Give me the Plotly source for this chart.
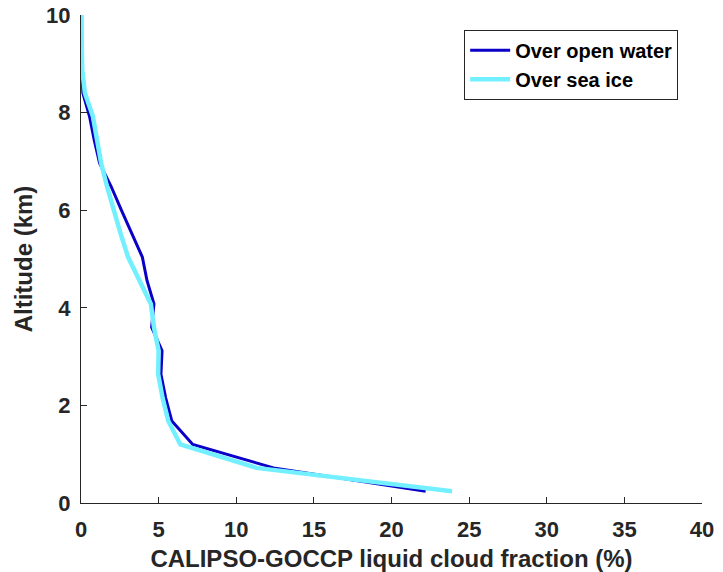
import plotly.graph_objects as go

altitude = [0.24, 0.72, 1.2, 1.68, 2.16, 2.64, 3.12, 3.6, 4.08, 4.56, 5.04, 5.52,
            6.0, 6.48, 6.96, 7.44, 7.92, 8.4, 8.88, 9.36, 9.84, 10.32]
open_water = [22.2, 12.4, 7.2, 5.85, 5.45, 5.15, 5.22, 4.55, 4.7, 4.25, 3.95, 3.25,
              2.6, 1.95, 1.2, 0.85, 0.55, 0.12, 0.05, 0.03, 0.02, 0.01]
sea_ice = [23.9, 11.3, 6.4, 5.62, 5.25, 4.97, 5.0, 4.7, 4.5, 3.8, 3.03, 2.55,
           2.1, 1.68, 1.3, 1.05, 0.77, 0.25, 0.08, 0.05, 0.04, 0.03]

x_ticks = [0, 5, 10, 15, 20, 25, 30, 35, 40]
y_ticks = [0, 2, 4, 6, 8, 10]

FONT = "Liberation Sans, Arial, sans-serif"
AX = "#262626"

fig = go.Figure()
fig.add_trace(go.Scatter(x=open_water, y=altitude, mode="lines", name="Over open water",
                         line=dict(color="#0A00C8", width=3)))
fig.add_trace(go.Scatter(x=sea_ice, y=altitude, mode="lines", name="Over sea ice",
                         line=dict(color="#73F0FF", width=4.5)))

fig.update_layout(
    width=723, height=572,
    margin=dict(l=81, r=21, t=15, b=69, autoexpand=False),
    paper_bgcolor="white", plot_bgcolor="white",
    font=dict(family=FONT, color=AX),
    showlegend=True,
    legend=dict(x=0.617, y=0.97, xanchor="left", yanchor="top",
                bgcolor="white", bordercolor=AX, borderwidth=1,
                font=dict(family=FONT, size=20, color="black", weight="bold"),
                itemwidth=40, tracegroupgap=0),
    xaxis=dict(range=[0, 40], tickvals=x_ticks, ticktext=[str(v) for v in x_ticks],
               automargin=False,
               showline=True, linecolor=AX, linewidth=1, mirror=False,
               ticks="inside", ticklen=6, tickcolor=AX, showgrid=False, zeroline=False,
               tickfont=dict(family=FONT, size=22, color=AX, weight="bold"),
               ticklabelstandoff=7,
               title=dict(text="CALIPSO-GOCCP liquid cloud fraction (%)", standoff=10,
                          font=dict(family=FONT, size=24, color=AX, weight="bold"))),
    yaxis=dict(range=[0, 10], tickvals=y_ticks, ticktext=[str(v) for v in y_ticks],
               automargin=False,
               showline=True, linecolor=AX, linewidth=1, mirror=False,
               ticks="inside", ticklen=6, tickcolor=AX, showgrid=False, zeroline=False,
               tickfont=dict(family=FONT, size=22, color=AX, weight="bold"),
               ticklabelstandoff=5,
               title=dict(text="Altitude (km)", standoff=6,
                          font=dict(family=FONT, size=24, color=AX, weight="bold"))),
)

fig.write_html("out.html")
